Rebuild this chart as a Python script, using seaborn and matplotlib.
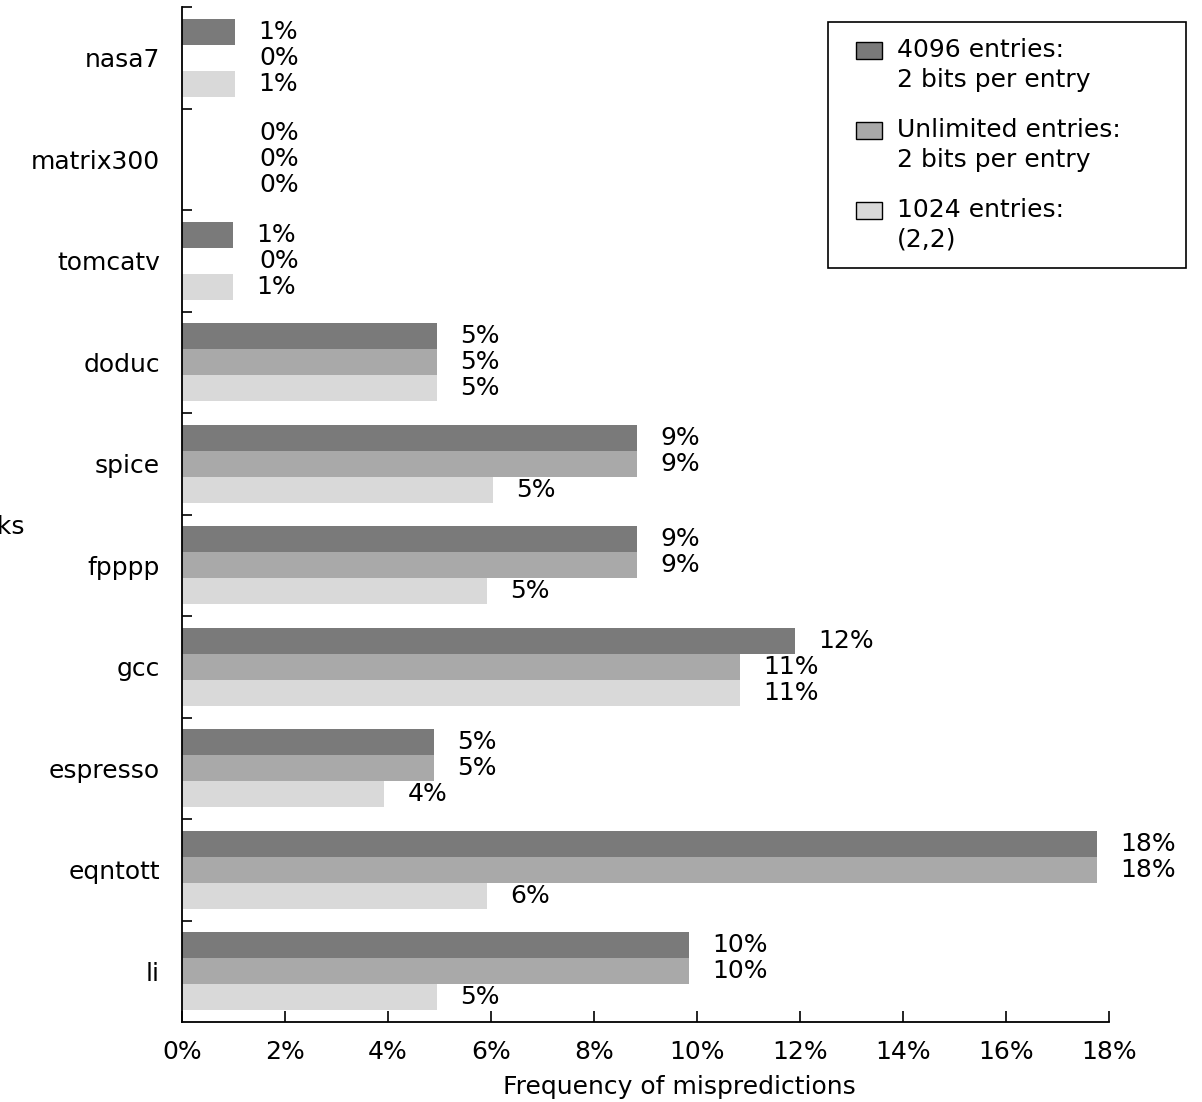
import matplotlib
matplotlib.use("Agg")
import matplotlib.pyplot as plt
import matplotlib.patches as mpatches
from matplotlib.legend_handler import HandlerPatch
import seaborn as sns
import pandas as pd

benchmarks = ["nasa7", "matrix300", "tomcatv", "doduc", "spice",
              "fpppp", "gcc", "espresso", "eqntott", "li"]
configs = ["4096 entries:\n2 bits per entry",
           "Unlimited entries:\n2 bits per entry",
           "1024 entries:\n(2,2)"]

# bar lengths (%)
v_4096 = [1.03, 0, 0.99, 4.96, 8.84, 8.84, 11.9, 4.9, 17.77, 9.84]
v_unlim = [0, 0, 0, 4.96, 8.84, 8.84, 10.83, 4.9, 17.77, 9.84]
v_1024 = [1.03, 0, 0.99, 4.96, 6.03, 5.93, 10.83, 3.93, 5.93, 4.96]

# printed value labels
lab_4096 = ["1%", "0%", "1%", "5%", "9%", "9%", "12%", "5%", "18%", "10%"]
lab_unlim = ["0%", "0%", "0%", "5%", "9%", "9%", "11%", "5%", "18%", "10%"]
lab_1024 = ["1%", "0%", "1%", "5%", "5%", "5%", "11%", "4%", "6%", "5%"]

xticks = [0, 2, 4, 6, 8, 10, 12, 14, 16, 18]
colors = ["#7a7a7a", "#a9a9a9", "#d9d9d9"]

df = pd.DataFrame({
    "benchmark": benchmarks * 3,
    "config": [c for c in configs for _ in benchmarks],
    "value": v_4096 + v_unlim + v_1024,
})

sns.set_style("ticks")
plt.rcParams["font.family"] = ["DejaVu Sans"]
plt.rcParams.update({"text.color": "black", "axes.labelcolor": "black",
                     "xtick.color": "black", "ytick.color": "black"})
FS = 18

fig = plt.figure(figsize=(12.02, 11.02), dpi=100)
ax = fig.add_axes([182 / 1202, 80 / 1102, 927 / 1202, 1015 / 1102])

sns.barplot(data=df, x="value", y="benchmark", hue="config", order=benchmarks,
            hue_order=configs, palette=colors, orient="h", width=0.77,
            saturation=1, legend=False, ax=ax, edgecolor="none", linewidth=0)

# value labels right of each bar
for cont, labs in zip(ax.containers, [lab_4096, lab_unlim, lab_1024]):
    for bar, lab in zip(cont, labs):
        w = bar.get_width()
        x = w + 0.45 if w > 0 else 1.5
        ax.text(x, bar.get_y() + bar.get_height() / 2, lab,
                ha="left", va="center", fontsize=FS, color="black")

ax.set_xlim(0, 18)
ax.set_ylim(9.5, -0.5)
ax.set_xticks(xticks)
ax.set_xticklabels([f"{t}%" for t in xticks])
ax.set_yticks([i - 0.5 for i in range(10)])
ax.set_yticklabels([])
ax.set_yticks(range(10), minor=True)
ax.set_yticklabels(benchmarks, minor=True)
ax.tick_params(axis="y", which="major", direction="in", length=7, width=1.2, color="black")
ax.tick_params(axis="y", which="minor", length=0, pad=16, labelsize=FS, labelcolor="black")
ax.tick_params(axis="x", direction="in", length=8, width=1.2, pad=13,
               labelsize=FS, color="black", labelcolor="black")
ax.set_ylabel("")
ax.set_xlabel("Frequency of mispredictions", fontsize=FS, color="black")
ax.xaxis.set_label_coords(0.537, -0.052)
sns.despine(ax=ax)
for s in ["left", "bottom"]:
    ax.spines[s].set_color("black")
    ax.spines[s].set_linewidth(1.3)

# cut-off axis title at the far left
fig.text(25 / 1202, 1 - 527 / 1102, "SPEC89 benchmarks", ha="right",
         va="center", fontsize=FS, color="black")

SW = 18.7  # swatch width in points


def top_square(legend, orig_handle, xdescent, ydescent, width, height, fontsize):
    # swatch at the right of its slot, level with the first label line
    return mpatches.Rectangle((-xdescent + width - SW, -ydescent + 0.62 * fontsize),
                              SW, height)


handles = [mpatches.Patch(facecolor=c, edgecolor="black", linewidth=1.0, label=l)
           for c, l in zip(colors, configs)]
leg = fig.legend(handles=handles, loc="upper left",
                 bbox_to_anchor=(828 / 1202, 1 - 22 / 1102, 358 / 1202, 0.0),
                 bbox_transform=fig.transFigure, mode="expand", fontsize=FS,
                 frameon=True, fancybox=False, edgecolor="black", framealpha=1,
                 handlelength=1.5, handleheight=0.68, handletextpad=0.6,
                 labelspacing=1.05, borderpad=0.65, borderaxespad=0,
                 handler_map={mpatches.Patch: HandlerPatch(patch_func=top_square)})
leg.get_frame().set_linewidth(1.2)
for t in leg.get_texts():
    t.set_linespacing(1.3)
    t.set_color("black")

fig.savefig("out.png", dpi=100)
